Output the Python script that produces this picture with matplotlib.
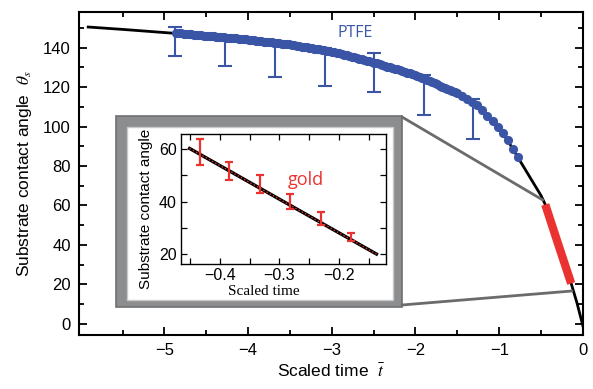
import numpy as np
import matplotlib; matplotlib.use("Agg")
import matplotlib.pyplot as plt
from matplotlib.patches import Rectangle, ConnectionPatch
from matplotlib.ticker import MultipleLocator, FixedLocator

plt.rcParams.update({"font.family": "Liberation Sans", "mathtext.fontset": "stix",
                     "axes.linewidth": 1.5})
BLUE = "#3a55a6"; RED = "#ea3330"; FRAME = "#8c8d8f"; LINEG = "#6b6b6b"

# theory curve (main panel)
curve_t = [-5.91, -5.5, -5.0, -4.5, -4.0, -3.5, -3.0, -2.5, -2.0, -1.5, -1.25, -1.0,
           -0.9, -0.78, -0.7, -0.6, -0.5, -0.45, -0.3, -0.14, -0.07, 0.0]
curve_theta = [150.4, 149.2, 147.6, 146.0, 144.0, 141.5, 138.0, 132.5, 126.0, 117.0, 110.5, 99.0,
               93.0, 84.6, 79.0, 72.0, 65.0, 60.5, 41.0, 20.5, 10.5, -1.0]

# gold range highlighted on the curve
gold_t = [-0.45, -0.3, -0.14]
gold_theta = [60.5, 41.0, 20.5]

# PTFE measurements (dense points)
ptfe_t = [-4.86, -4.83, -4.80, -4.77, -4.74, -4.71, -4.68, -4.65, -4.62, -4.59, -4.56, -4.53,
          -4.50, -4.47, -4.44, -4.41, -4.38, -4.35, -4.32, -4.29, -4.26, -4.23, -4.20, -4.17,
          -4.14, -4.11, -4.08, -4.05, -4.02, -3.99, -3.96, -3.93, -3.90, -3.87, -3.84, -3.81,
          -3.78, -3.75, -3.72, -3.69, -3.66, -3.63, -3.60, -3.57, -3.54, -3.51, -3.48, -3.45,
          -3.42, -3.39, -3.36, -3.33, -3.30, -3.27, -3.24, -3.21, -3.18, -3.15, -3.12, -3.09,
          -3.06, -3.03, -3.00, -2.97, -2.94, -2.91, -2.88, -2.85, -2.82, -2.79, -2.76, -2.73,
          -2.70, -2.67, -2.64, -2.61, -2.58, -2.55, -2.52, -2.49, -2.46, -2.43, -2.40, -2.37,
          -2.34, -2.31, -2.28, -2.25, -2.22, -2.19, -2.16, -2.13, -2.10, -2.07, -2.04, -2.01,
          -1.98, -1.95, -1.92, -1.89, -1.86, -1.83, -1.80, -1.77, -1.74, -1.71, -1.68, -1.65,
          -1.62, -1.59, -1.56, -1.53, -1.50, -1.44, -1.38, -1.32, -1.26, -1.20, -1.14, -1.08,
          -1.02, -0.96, -0.90, -0.84, -0.78]
ptfe_theta = [147.4, 147.3, 147.2, 147.05, 146.9, 146.8, 146.7, 146.6, 146.5, 146.35, 146.2, 146.1,
              146.0, 145.9, 145.8, 145.65, 145.5, 145.4, 145.3, 145.15, 145.0, 144.9, 144.8, 144.7,
              144.6, 144.45, 144.3, 144.2, 144.1, 143.95, 143.8, 143.65, 143.5, 143.35, 143.2, 143.05,
              142.9, 142.75, 142.6, 142.45, 142.3, 142.15, 142.0, 141.85, 141.7, 141.55, 141.4, 141.15,
              140.9, 140.7, 140.5, 140.3, 140.1, 139.9, 139.7, 139.5, 139.3, 139.05, 138.8, 138.6,
              138.4, 138.2, 138.0, 137.65, 137.3, 137.0, 136.7, 136.35, 136.0, 135.7, 135.4, 135.05,
              134.7, 134.35, 134.0, 133.7, 133.4, 133.05, 132.7, 132.35, 132.0, 131.6, 131.2, 130.8,
              130.4, 130.0, 129.6, 129.25, 128.9, 128.5, 128.1, 127.7, 127.3, 126.9, 126.5, 126.05,
              125.6, 125.1, 124.6, 124.05, 123.5, 122.95, 122.4, 121.85, 121.3, 120.75, 120.2, 119.7,
              119.2, 118.65, 118.1, 117.55, 117.0, 115.4, 113.9, 112.3, 110.8, 108.2, 105.5, 102.7,
              99.9, 96.6, 93.0, 88.8, 84.6]

# PTFE error bars
bar_t = [-4.87, -4.27, -3.68, -3.08, -2.49, -1.90, -1.31]
bar_top = [150.4, 146.0, 143.0, 140.0, 137.2, 126.0, 114.0]
bar_bottom = [135.7, 130.7, 125.0, 120.5, 117.5, 105.8, 93.7]

# inset (gold)
ins_line_t = [-0.451, -0.137]
ins_line_theta = [60.2, 20.0]
gold_pt_t = [-0.434, -0.384, -0.333, -0.282, -0.230, -0.179]
gold_pt_theta = [58.8, 51.5, 46.7, 39.9, 33.4, 26.5]
gold_err = [5.0, 3.5, 3.3, 2.9, 2.5, 1.4]

fig = plt.figure(figsize=(5.93, 3.89), dpi=100)
ax = fig.add_axes([0.1332, 0.1388, 0.8498, 0.8303])

ax.plot(curve_t, curve_theta, color="black", lw=2.0, zorder=2)
ax.plot(gold_t, gold_theta, color=RED, lw=6.0, solid_capstyle="butt", zorder=3)
ax.plot(ptfe_t, ptfe_theta, "o", color=BLUE, ms=6.6, mec="none", zorder=4)
bt = np.array(bar_top); bb = np.array(bar_bottom)
ax.errorbar(bar_t, (bt + bb) / 2, yerr=(bt - bb) / 2, fmt="none", ecolor=BLUE,
            elinewidth=1.5, capsize=5.2, capthick=1.5, zorder=4)
ax.text(-2.72, 147.3, "PTFE", color=BLUE, fontsize=11.5, family="Open Sans",
        ha="center", va="center")

ax.set_xlim(-6.02, 0.0)
ax.set_ylim(-5.6, 158)
ax.xaxis.set_major_locator(FixedLocator([-5, -4, -3, -2, -1, 0]))
ax.xaxis.set_minor_locator(FixedLocator([-5.5, -4.5, -3.5, -2.5, -1.5, -0.5]))
ax.yaxis.set_major_locator(MultipleLocator(20))
ax.yaxis.set_minor_locator(MultipleLocator(10))
ax.tick_params(which="both", direction="in", top=True, right=True, width=1.3)
ax.tick_params(which="major", length=6, labelsize=12, pad=6)
ax.tick_params(which="minor", length=3.5)
ax.set_xlabel(r"Scaled time  $\bar{t}$", fontsize=12.5, labelpad=3)
ax.set_ylabel(r"Substrate contact angle  $\theta_s$", fontsize=12.5, labelpad=6)

# inset frame
fw, fh = 593.0, 389.0
def fx(px): return px / fw
def fy(py): return 1 - py / fh
outer = Rectangle((fx(116), fy(307)), fx(402) - fx(116), fy(116) - fy(307),
                  transform=fig.transFigure, facecolor=FRAME, edgecolor="#6e6f71",
                  lw=1.2, zorder=1)
inner = Rectangle((fx(127), fy(300)), fx(393) - fx(127), fy(127) - fy(300),
                  transform=fig.transFigure, facecolor="white", edgecolor="#c9c9c9",
                  lw=1.0, zorder=1.1)
fig.add_artist(outer); fig.add_artist(inner)

for (px, py), (t, th) in [((402, 117), (-0.48, 62.8)), ((402, 305), (-0.13, 16.7))]:
    con = ConnectionPatch(xyA=(fx(px), fy(py)), coordsA=fig.transFigure,
                          xyB=(t, th), coordsB=ax.transData, color=LINEG, lw=2.0)
    con.set_zorder(1.2)
    fig.add_artist(con)

ins = fig.add_axes([0.3052, 0.3213, 0.3457, 0.3342])
ins.set_zorder(5)
for s in ins.spines.values():
    s.set_linewidth(1.0)
ins.plot(ins_line_t, ins_line_theta, color="black", lw=2.4)
ins.plot(ins_line_t, ins_line_theta, ":", color=RED, lw=1.0)
ins.errorbar(gold_pt_t, gold_pt_theta, yerr=gold_err, fmt="none", ecolor=RED,
             elinewidth=1.6, capsize=3.2, capthick=1.6)
ins.text(-0.256, 48.2, "gold", color=RED, fontsize=13, family="Open Sans",
         ha="center", va="center")
ins.set_xlim(-0.4655, -0.121)
ins.set_ylim(16.2, 65.7)
ins.xaxis.set_major_locator(MultipleLocator(0.1))
ins.xaxis.set_minor_locator(MultipleLocator(0.05))
ins.yaxis.set_major_locator(MultipleLocator(20))
ins.yaxis.set_minor_locator(MultipleLocator(10))
ins.tick_params(which="both", direction="in", top=True, right=True, width=0.9)
ins.tick_params(which="major", length=4, labelsize=11.5, pad=3)
ins.tick_params(which="minor", length=4)
ins.text(0.405, -0.215, "Scaled time", transform=ins.transAxes, fontsize=11,
         family=["Liberation Serif"], ha="center", va="center")
ins.text(-0.17, 0.427, "Substrate contact angle", transform=ins.transAxes,
         fontsize=11, family=["Liberation Sans"], rotation=90, ha="center", va="center")

fig.savefig("out.png", dpi=100)
